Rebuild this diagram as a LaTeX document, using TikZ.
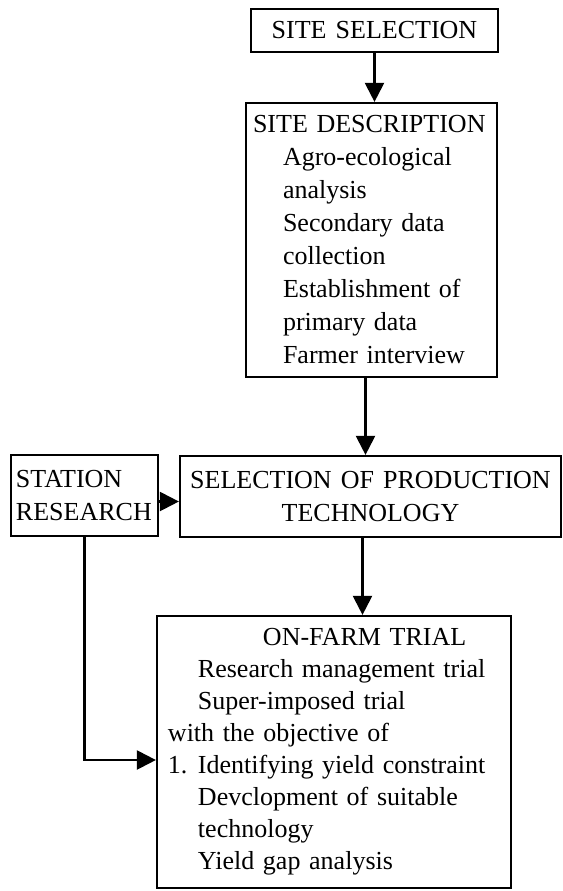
\documentclass[tikz,border=0pt]{standalone}
\usepackage{fontspec}
\setmainfont{Liberation Serif}[WordSpace=1.4]
\usetikzlibrary{arrows.meta}

\tikzset{
	blk/.style={draw, line width=1.1pt, inner ysep=0pt, font=\fontsize{13}{16.5}\selectfont},
	flow/.style={line width=1.1pt, -{Triangle[width=9.5pt,length=9.5pt]}},
}
\newcommand{\ind}{\hspace*{15pt}}

\begin{document}
\begin{tikzpicture}[x=0.5pt,y=-0.5pt]
\useasboundingbox (0,0) rectangle (563,891);

\node[blk, minimum width=123.5pt, minimum height=21.5pt] (sitesel) at (374.5,30.5) {SITE SELECTION};

\node[blk, inner xsep=3.5pt, text width=118.5pt, minimum height=137pt, align=left] (sitedesc) at (371.5,240) {%
SITE DESCRIPTION\\
\ind Agro-ecological\\
\ind analysis\\
\ind Secondary data\\
\ind collection\\
\ind Establishment of\\
\ind primary data\\
\ind Farmer interview};

\node[blk, inner xsep=2.5pt, text width=68.5pt, minimum height=40.5pt, align=left] (station) at (84.5,495.5) {STATION\\RESEARCH};

\node[blk, minimum width=190.5pt, minimum height=40.5pt, align=center] (select) at (370.5,496.5) {SELECTION OF PRODUCTION\\TECHNOLOGY};

\node[blk, inner xsep=5.5pt, text width=166pt, minimum height=136pt, align=left,
	font=\fontsize{13}{16}\selectfont] (onfarm) at (334,752) {%
\hspace*{47.5pt}ON-FARM TRIAL\\
\ind Research management trial\\
\ind Super-imposed trial\\
with the objective of\\
\makebox[15pt][l]{1.}Identifying yield constraint\\
\ind Devclopment of suitable\\
\ind technology\\
\ind Yield gap analysis};

% arrows
\draw[flow] (sitesel.south) -- (sitesel.south |- sitedesc.north);
\draw[flow] ([xshift=-3pt]sitedesc.south) -- ([xshift=-3pt]sitedesc.south |- select.north);
\draw[flow] ([yshift=-3pt]station.east) -- ([yshift=-3pt]station.east -| select.west);
\draw[flow] ([xshift=-4pt]select.south) -- ([xshift=-4pt]select.south |- onfarm.north);
\draw[flow] (station.south) |- ([yshift=-4pt]onfarm.west);
\end{tikzpicture}
\end{document}
